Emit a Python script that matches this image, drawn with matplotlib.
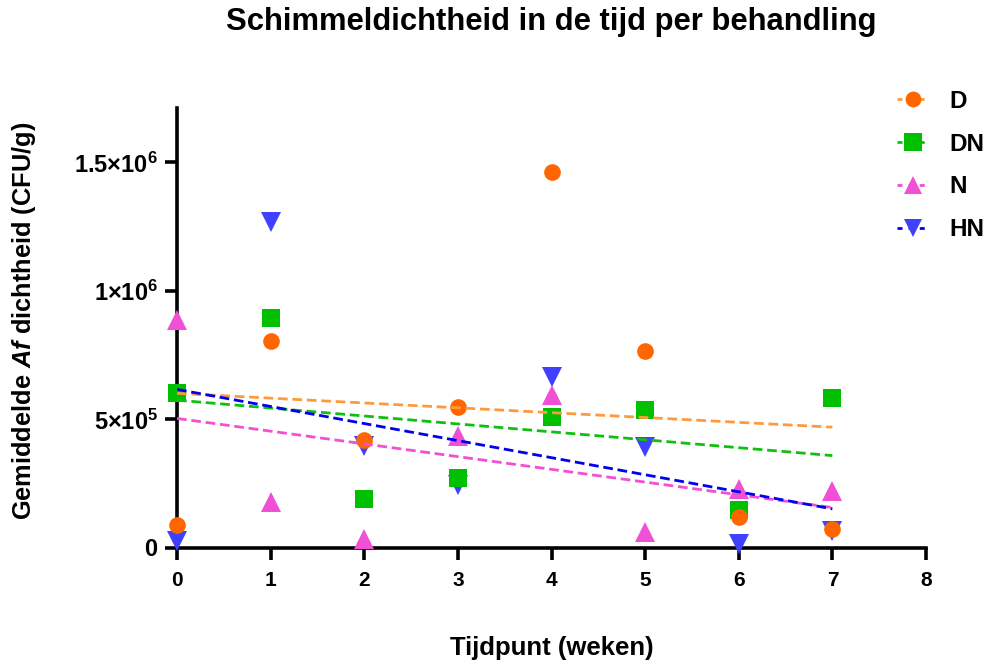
import numpy as np
import matplotlib
matplotlib.use("Agg")
import matplotlib.pyplot as plt
from matplotlib.lines import Line2D

plt.rcParams['font.family'] = ['Liberation Sans', 'DejaVu Sans']
plt.rcParams['mathtext.fontset'] = 'custom'
plt.rcParams['mathtext.rm'] = 'Liberation Sans:bold'
plt.rcParams['mathtext.bf'] = 'Liberation Sans:bold'
plt.rcParams['mathtext.it'] = 'Liberation Sans:italic:bold'
plt.rcParams['mathtext.bfit'] = 'Liberation Sans:italic:bold'

weeks = [0, 1, 2, 3, 4, 5, 6, 7]
series_names = ["D", "DN", "N", "HN"]
D = [0.090e6, 0.805e6, 0.420e6, 0.549e6, 1.463e6, 0.767e6, 0.120e6, 0.074e6]
DN = [0.603e6, 0.895e6, 0.190e6, 0.272e6, 0.510e6, 0.537e6, 0.148e6, 0.584e6]
N = [0.887e6, 0.179e6, 0.035e6, 0.436e6, 0.595e6, 0.062e6, 0.230e6, 0.222e6]
HN = [0.027e6, 1.268e6, 0.397e6, 0.245e6, 0.665e6, 0.393e6, 0.016e6, 0.066e6]

xticks = [0, 1, 2, 3, 4, 5, 6, 7, 8]
yticks = [0, 5e5, 1e6, 1.5e6]
ytick_labels = [r"$0$", r"$5{\times}10^{5}$", r"$1{\times}10^{6}$", r"$1.5{\times}10^{6}$"]

styles = {
    "D": dict(marker='o', mc='#FF6600', lc='#FF9A3C', ms=12),
    "DN": dict(marker='s', mc='#00C000', lc='#10C010', ms=13.5),
    "N": dict(marker='^', mc='#F050D6', lc='#F050D6', ms=14),
    "HN": dict(marker='v', mc='#4040FF', lc='#0000EE', ms=14),
}
data = {"D": D, "DN": DN, "N": N, "HN": HN}

fig = plt.figure(figsize=(9.9, 6.69), dpi=100)
ax = fig.add_axes([177/990, 1-548/669, (926-177)/990, (548-108)/669])

x = np.array(weeks, dtype=float)
draw_order = ["HN", "DN", "N", "D"]
for name in draw_order:
    st = styles[name]
    ax.plot(x, data[name], linestyle='none', marker=st['marker'], color=st['mc'],
            markersize=st['ms'], markeredgewidth=0, clip_on=False, zorder=3)
for name in series_names:
    st = styles[name]
    coef = np.polyfit(x, data[name], 1)
    xf = np.array([x.min(), x.max()])
    ax.plot(xf, np.polyval(coef, xf), linestyle=(0, (3.5, 1.7)), color=st['lc'],
            linewidth=2.0, zorder=4)

ax.set_xlim(0, 8)
ax.set_ylim(0, 1.712e6)
ax.set_xticks(xticks)
ax.set_xticklabels([str(t) for t in xticks], fontsize=15, fontweight='bold')
ax.set_yticks(yticks)
ax.set_yticklabels(ytick_labels, fontsize=17)
for s in ['top', 'right']:
    ax.spines[s].set_visible(False)
for s in ['left', 'bottom']:
    ax.spines[s].set_linewidth(2.6)
ax.tick_params(axis='both', width=2.6, length=8.5, direction='out', pad=5)
ax.tick_params(axis='x', pad=8)

ax.set_xlabel("Tijdpunt (weken)", fontsize=18.5, fontweight='bold')
ax.xaxis.set_label_coords(0.5, -0.200)
ax.set_ylabel(r"Gemiddelde $\mathbfit{Af}$ dichtheid (CFU/g)", fontsize=18.3,
              fontweight='bold')
ax.yaxis.set_label_coords(-0.1856, 0.516)
fig.suptitle("Schimmeldichtheid in de tijd per behandling", x=551.5/990, y=1-7/669,
             va='top', fontsize=22.3, fontweight='bold')

handles = []
for name in series_names:
    st = styles[name]
    handles.append(Line2D([0], [0], color=st['lc'], linestyle=(0, (1.8, 2.2)), linewidth=2.0,
                          marker=st['marker'], markerfacecolor=st['mc'],
                          markeredgewidth=0, markersize=st['ms'] * 0.95))
leg = fig.legend(handles, series_names, loc='upper left', bbox_to_anchor=(897/990, 1-90/669),
                 frameon=False, prop=dict(size=17.5, weight='bold'), handlelength=1.35,
                 labelspacing=0.81, handletextpad=0.8, borderpad=0, borderaxespad=0)

fig.savefig("out.png", dpi=100)
